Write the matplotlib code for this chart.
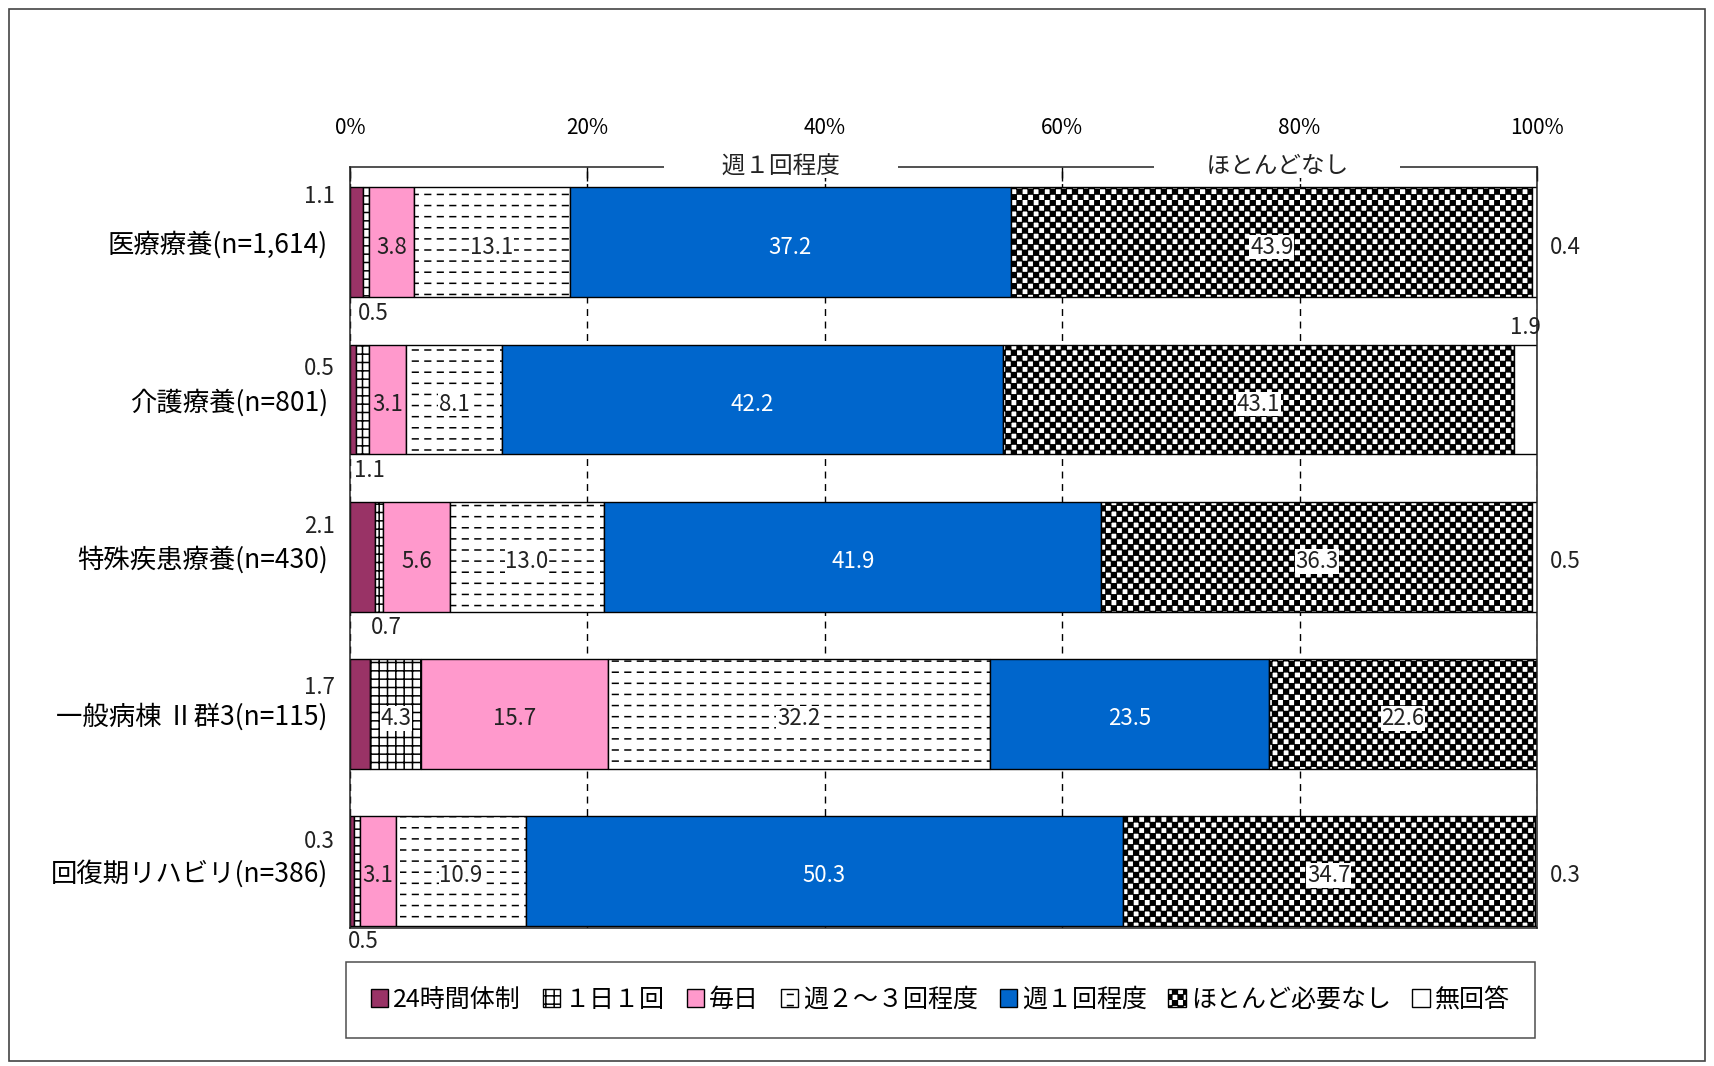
import warnings
import numpy as np
import matplotlib
matplotlib.use("Agg")
import matplotlib.pyplot as plt
from matplotlib import hatch as mhatch
from matplotlib.path import Path
from matplotlib.patches import Rectangle
import matplotlib.transforms as mtrans

warnings.filterwarnings("ignore", category=matplotlib.MatplotlibDeprecationWarning)

# データ（%）
categories = ["医療療養(n=1,614)", "介護療養(n=801)", "特殊疾患療養(n=430)",
              "一般病棟 Ⅱ群3(n=115)", "回復期リハビリ(n=386)"]
series_names = ["24時間体制", "１日１回", "毎日", "週２～３回程度", "週１回程度",
                "ほとんど必要なし", "無回答"]
v_24h = [1.1, 0.5, 2.1, 1.7, 0.3]
v_1day = [0.5, 1.1, 0.7, 4.3, 0.5]
v_daily = [3.8, 3.1, 5.6, 15.7, 3.1]
v_week23 = [13.1, 8.1, 13.0, 32.2, 10.9]
v_week1 = [37.2, 42.2, 41.9, 23.5, 50.3]
v_rarely = [43.9, 43.1, 36.3, 22.6, 34.7]
v_noans = [0.4, 1.9, 0.5, 0.0, 0.3]
values = [v_24h, v_1day, v_daily, v_week23, v_week1, v_rarely, v_noans]
xticks = [0, 20, 40, 60, 80, 100]


# 独自ハッチ：破線とチェック柄
class DashRows(mhatch.HatchPatternBase):
    def __init__(self, hatch, density):
        k = hatch.count("d")
        self.rows = 9 * k
        self.cols = 8 * k
        self.num_vertices = self.rows * self.cols * 2

    def set_vertices_and_codes(self, vertices, codes):
        i = 0
        for r in range(self.rows):
            y = (r + 0.5) / self.rows
            for c in range(self.cols):
                x0 = c / self.cols
                vertices[i] = (x0, y)
                vertices[i + 1] = (x0 + 0.45 / self.cols, y)
                codes[i] = Path.MOVETO
                codes[i + 1] = Path.LINETO
                i += 2


class Checker(mhatch.HatchPatternBase):
    def __init__(self, hatch, density):
        self.n = 18 * hatch.count("c")
        self.num_vertices = (self.n * self.n // 2) * 5

    def set_vertices_and_codes(self, vertices, codes):
        n = self.n
        s = 1.0 / n
        e = 0.004
        i = 0
        for a in range(n):
            for b in range(n):
                if (a + b) % 2 == 0:
                    x0, y0 = a * s + e, b * s + e
                    x1, y1 = (a + 1) * s - e, (b + 1) * s - e
                    vertices[i:i + 5] = [(x0, y0), (x1, y0), (x1, y1), (x0, y1), (x0, y0)]
                    codes[i:i + 5] = [Path.MOVETO, Path.LINETO, Path.LINETO,
                                      Path.LINETO, Path.CLOSEPOLY]
                    i += 5


mhatch._hatch_types.extend([DashRows, Checker])

plt.rcParams["font.family"] = ["Noto Sans CJK JP", "DejaVu Sans"]
plt.rcParams["hatch.linewidth"] = 1.1

colors = ["#993366", "white", "#FF99CC", "white", "#0066CC", "white", "white"]
hatches = [None, "++", None, "d", None, "c", None]
txt_col = "#222222"
val_fs = 16

fig = plt.figure(figsize=(17.15, 10.66), dpi=100)
ax = fig.add_axes([0.2041, 0.1295, 0.6921, 0.7139])

y = np.arange(len(categories))
bar_h = 0.70
left = np.zeros(len(categories))
containers = []
for vals, name, col, hat in zip(values, series_names, colors, hatches):
    bc = ax.barh(y, vals, left=left, height=bar_h, color=col, edgecolor="black",
                 linewidth=1.0, hatch=hat, label=name, zorder=2)
    containers.append((bc, left.copy()))
    left = left + np.array(vals)

ax.set_xlim(0, 100)
ax.set_ylim(4.363, -0.48)
ax.set_yticks(y)
ax.set_yticklabels(categories, fontsize=19)
ax.set_xticks(xticks)
ax.set_xticklabels([f"{t}%" for t in xticks], fontsize=15)
ax.xaxis.tick_top()
ax.tick_params(axis="x", direction="in", length=10, width=1, pad=20, top=True, bottom=False)
ax.tick_params(axis="y", length=0, pad=16)
ax.xaxis.grid(True, color="black", linestyle=(0, (5, 4)), linewidth=1.0)
ax.set_axisbelow(True)
for sp in ax.spines.values():
    sp.set_color("#222222")
    sp.set_linewidth(1.1)

# 数値ラベル
left_off = [0.29, 0.20, 0.19, 0.17, 0.19]
for si, (bc, lefts) in enumerate(containers):
    for ri, v in enumerate(values[si]):
        if v <= 0:
            continue
        xc = lefts[ri] + v / 2
        lab = f"{v:.1f}"
        if si == 0:
            ax.annotate(lab, (0, y[ri] - left_off[ri]), xytext=(-11, 0),
                        textcoords="offset points", ha="right", va="center",
                        fontsize=val_fs, color=txt_col)
        elif si == 1 and v < 3:
            ax.text(xc + 0.6, y[ri] + 0.45, lab, ha="center", va="center",
                    fontsize=val_fs, color=txt_col)
        elif si == 6:
            if v < 1:
                ax.annotate(lab, (100, y[ri] + 0.03), xytext=(9, 0),
                            textcoords="offset points", ha="left", va="center",
                            fontsize=val_fs, color=txt_col, annotation_clip=False)
            else:
                ax.text(xc, y[ri] - 0.46, lab, ha="center", va="center",
                        fontsize=val_fs, color=txt_col)
        else:
            kw = {}
            if hatches[si]:
                kw["bbox"] = dict(facecolor="white", edgecolor="none", pad=0.5)
            ax.text(xc, y[ri] + 0.03, lab, ha="center", va="center", fontsize=val_fs,
                    color="white" if si == 4 else txt_col, zorder=4, **kw)

# 上部の見出し
trans = mtrans.blended_transform_factory(ax.transData, ax.transAxes)
ax.text(36.3, 1.0, "\u3000\u3000  週１回程度  \u3000\u3000", transform=trans,
        ha="center", va="center", fontsize=17, color=txt_col,
        bbox=dict(facecolor="white", edgecolor="none", pad=0))
ax.text(78.1, 1.0, "\u3000\u3000 ほとんどなし \u3000\u3000", transform=trans,
        ha="center", va="center", fontsize=17, color=txt_col,
        bbox=dict(facecolor="white", edgecolor="none", pad=0))

# 凡例
leg = fig.legend(handles=[c for c, _ in containers], labels=series_names,
                 loc="center", ncol=7, mode="expand", borderaxespad=0,
                 bbox_to_anchor=(0.2017, 0.0275, 0.6933, 0.0694),
                 fontsize=18, handlelength=0.7, handleheight=0.7,
                 handletextpad=0.2, borderpad=1.0, frameon=True, fancybox=False)
leg.get_frame().set_edgecolor("#222222")
leg.get_frame().set_linewidth(1.1)

# 外枠
fig.patches.append(Rectangle((9 / 1715, 5 / 1066), 1696 / 1715, 1052 / 1066,
                             transform=fig.transFigure, fill=False,
                             edgecolor="#444444", linewidth=1.2))

fig.savefig("out.png", dpi=100)
